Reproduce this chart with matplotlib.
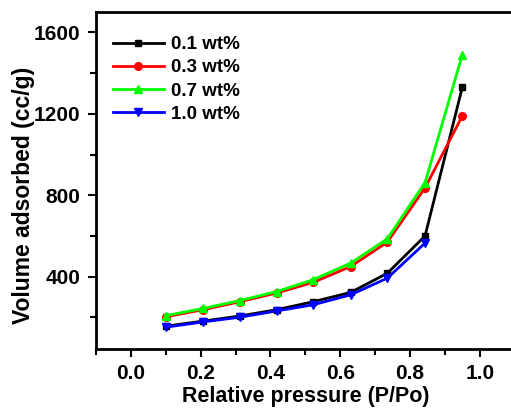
import numpy as np
import matplotlib
matplotlib.use("Agg")
import matplotlib.pyplot as plt
from matplotlib.ticker import MultipleLocator

# Dados
pressao = [0.1, 0.207, 0.312, 0.418, 0.522, 0.63, 0.735, 0.843, 0.95]
vol_01 = [157, 182, 207, 238, 277, 323, 417, 600, 1331]
vol_03 = [203, 238, 277, 320, 372, 450, 570, 836, 1190]
vol_07 = [209, 244, 283, 327, 385, 467, 586, 862, 1491]
vol_10 = [152, 178, 201, 232, 262, 311, 393, 565]

series = [
    ("0.1 wt%", pressao, vol_01, "black", "s", 5),
    ("0.3 wt%", pressao, vol_03, "red", "o", 5.5),
    ("0.7 wt%", pressao, vol_07, "#00ff00", "^", 6),
    ("1.0 wt%", pressao[:len(vol_10)], vol_10, "blue", "v", 6),
]

plt.rcParams["font.family"] = ["Liberation Sans", "DejaVu Sans"]
plt.rcParams["font.weight"] = "bold"

fig = plt.figure(figsize=(5.11, 4.08), dpi=100)
ax = fig.add_axes([96 / 511, 59 / 408, 418.7 / 511, 337 / 408])

for label, x, y, cor, marc, tam in series:
    ax.plot(x, y, color=cor, marker=marc, markersize=tam, linewidth=2, label=label)

ax.set_xlim(-0.1, 1.1)
ax.set_ylim(45, 1700)
ax.xaxis.set_minor_locator(MultipleLocator(0.1))
ax.yaxis.set_major_locator(MultipleLocator(400))
ax.yaxis.set_minor_locator(MultipleLocator(200))
ax.set_xticks([0.0, 0.2, 0.4, 0.6, 0.8, 1.0])
ax.set_xticklabels(["0.0", "0.2", "0.4", "0.6", "0.8", "1.0"])

ax.tick_params(which="major", direction="out", length=6, width=1.5, labelsize=15, pad=5)
ax.tick_params(which="minor", direction="out", length=4, width=1.5)
for lbl in ax.get_xticklabels() + ax.get_yticklabels():
    lbl.set_fontweight("bold")
for s in ax.spines.values():
    s.set_linewidth(2)

ax.set_xlabel("Relative pressure (P/Po)", fontsize=15.5, fontweight="bold")
ax.set_ylabel("Volume adsorbed (cc/g)", fontsize=16.5, fontweight="bold")
ax.xaxis.set_label_coords(0.5, -0.142)
ax.xaxis.label.set_va("center")
ax.yaxis.set_label_coords(-0.172, 0.457)
ax.yaxis.label.set_va("center")

ax.legend(loc="upper left", bbox_to_anchor=(0.0, 0.979), frameon=False,
          handlelength=2.7, handletextpad=0.4, labelspacing=0.33,
          prop={"weight": "bold", "size": 13.5})

fig.savefig("out.png", dpi=100)
